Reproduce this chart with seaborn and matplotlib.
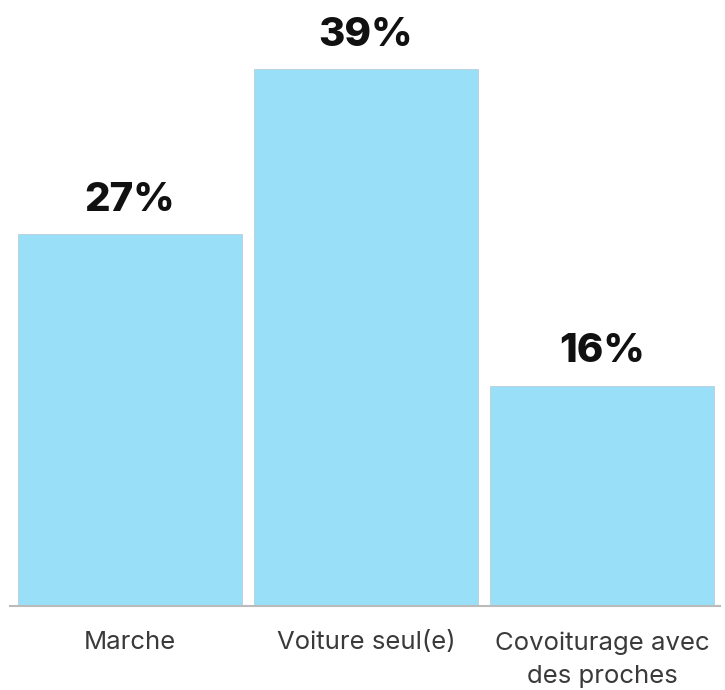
import matplotlib
matplotlib.use("Agg")
import matplotlib.pyplot as plt
import seaborn as sns
import pandas as pd

# Chart data
categories = ["Marche", "Voiture seul(e)", "Covoiturage avec\ndes proches"]
shares = [27, 39, 16]

sns.set_theme(style="white")
plt.rcParams['font.family'] = ['Inter', 'DejaVu Sans']

df = pd.DataFrame({"mode": categories, "share": shares})

fig = plt.figure(figsize=(7.25, 6.9), dpi=100)
ax = fig.add_axes([0.0138, 0.1217, 0.9793, 0.8783])

sns.barplot(data=df, x="mode", y="share", color="#99DFF7", width=0.95,
            saturation=1, edgecolor="#b9cfd8", linewidth=0.6, ax=ax)

for i, v in enumerate(shares):
    ax.annotate(f"{v}%", (i, v), xytext=(0, 11), textcoords="offset points",
                ha="center", va="bottom", fontsize=29, fontweight="heavy",
                color="#111111")

ax.set_xlim(-0.508, 2.5)
ax.set_ylim(0, 44)
ax.set_xlabel("")
ax.set_ylabel("")
ax.set_yticks([])
ax.tick_params(axis="x", length=0, pad=18, labelsize=18.5, labelcolor="#3a3a3a")
for lbl in ax.get_xticklabels():
    lbl.set_fontweight("normal")
    lbl.set_linespacing(1.6)

sns.despine(ax=ax, left=True, top=True, right=True)
ax.spines["bottom"].set_color("#bbbbbb")
ax.spines["bottom"].set_linewidth(1.5)

fig.savefig("out.png", dpi=100)
plt.close(fig)
